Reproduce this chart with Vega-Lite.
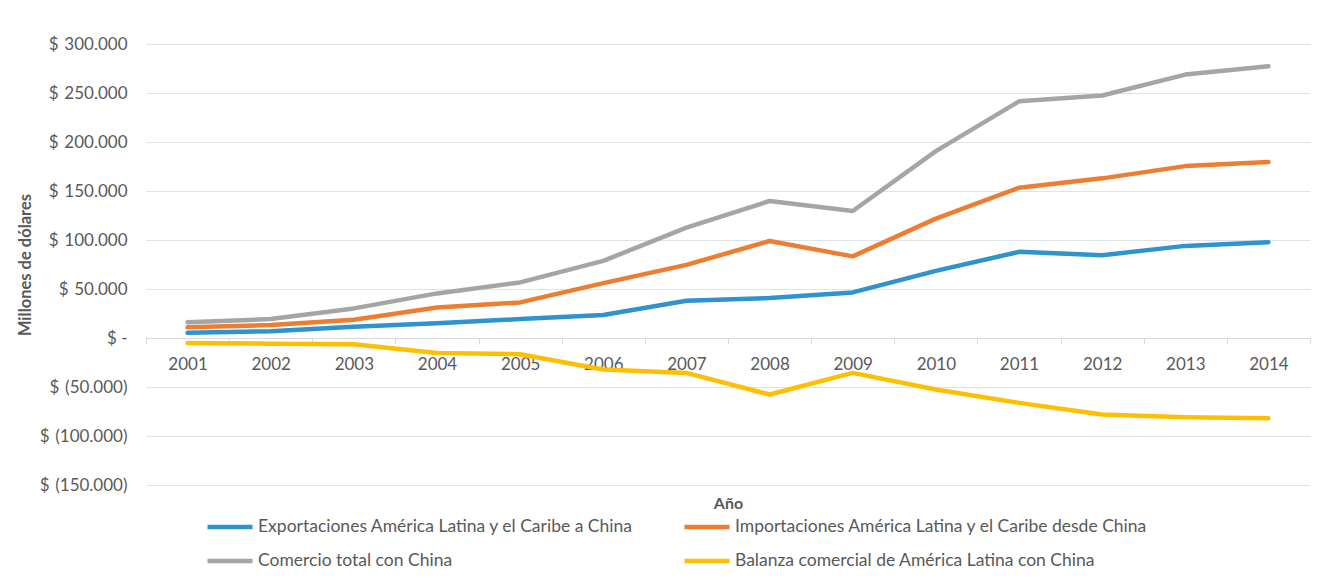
{
  "$schema": "https://vega.github.io/schema/vega-lite/v6.json",
  "width": 1164,
  "height": 441,
  "autosize": {"type": "none"},
  "padding": {"left": 146, "top": 44, "right": 15, "bottom": 100},
  "background": "white",
  "config": {
    "font": "Lato",
    "view": {"stroke": null},
    "axis": {"labelFont": "Lato", "titleFont": "Lato", "labelColor": "#595959", "titleColor": "#595959"}
  },
  "data": {
    "values": [
      {"year": "2001", "serie": "Exportaciones América Latina y el Caribe a China", "valor": 5400},
      {"year": "2002", "serie": "Exportaciones América Latina y el Caribe a China", "valor": 6800},
      {"year": "2003", "serie": "Exportaciones América Latina y el Caribe a China", "valor": 11500},
      {"year": "2004", "serie": "Exportaciones América Latina y el Caribe a China", "valor": 15000},
      {"year": "2005", "serie": "Exportaciones América Latina y el Caribe a China", "valor": 19300},
      {"year": "2006", "serie": "Exportaciones América Latina y el Caribe a China", "valor": 23400},
      {"year": "2007", "serie": "Exportaciones América Latina y el Caribe a China", "valor": 38000},
      {"year": "2008", "serie": "Exportaciones América Latina y el Caribe a China", "valor": 40700},
      {"year": "2009", "serie": "Exportaciones América Latina y el Caribe a China", "valor": 46500},
      {"year": "2010", "serie": "Exportaciones América Latina y el Caribe a China", "valor": 68500},
      {"year": "2011", "serie": "Exportaciones América Latina y el Caribe a China", "valor": 87900},
      {"year": "2012", "serie": "Exportaciones América Latina y el Caribe a China", "valor": 84500},
      {"year": "2013", "serie": "Exportaciones América Latina y el Caribe a China", "valor": 94000},
      {"year": "2014", "serie": "Exportaciones América Latina y el Caribe a China", "valor": 97700},
      {"year": "2001", "serie": "Importaciones América Latina y el Caribe desde China", "valor": 10900},
      {"year": "2002", "serie": "Importaciones América Latina y el Caribe desde China", "valor": 13200},
      {"year": "2003", "serie": "Importaciones América Latina y el Caribe desde China", "valor": 18600},
      {"year": "2004", "serie": "Importaciones América Latina y el Caribe desde China", "valor": 31200},
      {"year": "2005", "serie": "Importaciones América Latina y el Caribe desde China", "valor": 36300},
      {"year": "2006", "serie": "Importaciones América Latina y el Caribe desde China", "valor": 56000},
      {"year": "2007", "serie": "Importaciones América Latina y el Caribe desde China", "valor": 74600},
      {"year": "2008", "serie": "Importaciones América Latina y el Caribe desde China", "valor": 99000},
      {"year": "2009", "serie": "Importaciones América Latina y el Caribe desde China", "valor": 83300},
      {"year": "2010", "serie": "Importaciones América Latina y el Caribe desde China", "valor": 121800},
      {"year": "2011", "serie": "Importaciones América Latina y el Caribe desde China", "valor": 153400},
      {"year": "2012", "serie": "Importaciones América Latina y el Caribe desde China", "valor": 162900},
      {"year": "2013", "serie": "Importaciones América Latina y el Caribe desde China", "valor": 175400},
      {"year": "2014", "serie": "Importaciones América Latina y el Caribe desde China", "valor": 179500},
      {"year": "2001", "serie": "Comercio total con China", "valor": 16000},
      {"year": "2002", "serie": "Comercio total con China", "valor": 19300},
      {"year": "2003", "serie": "Comercio total con China", "valor": 30200},
      {"year": "2004", "serie": "Comercio total con China", "valor": 45500},
      {"year": "2005", "serie": "Comercio total con China", "valor": 56700},
      {"year": "2006", "serie": "Comercio total con China", "valor": 78700},
      {"year": "2007", "serie": "Comercio total con China", "valor": 112700},
      {"year": "2008", "serie": "Comercio total con China", "valor": 139800},
      {"year": "2009", "serie": "Comercio total con China", "valor": 129600},
      {"year": "2010", "serie": "Comercio total con China", "valor": 190700},
      {"year": "2011", "serie": "Comercio total con China", "valor": 241500},
      {"year": "2012", "serie": "Comercio total con China", "valor": 247400},
      {"year": "2013", "serie": "Comercio total con China", "valor": 268800},
      {"year": "2014", "serie": "Comercio total con China", "valor": 277200},
      {"year": "2001", "serie": "Balanza comercial de América Latina con China", "valor": -5100},
      {"year": "2002", "serie": "Balanza comercial de América Latina con China", "valor": -5800},
      {"year": "2003", "serie": "Balanza comercial de América Latina con China", "valor": -6400},
      {"year": "2004", "serie": "Balanza comercial de América Latina con China", "valor": -15300},
      {"year": "2005", "serie": "Balanza comercial de América Latina con China", "valor": -16600},
      {"year": "2006", "serie": "Balanza comercial de América Latina con China", "valor": -32200},
      {"year": "2007", "serie": "Balanza comercial de América Latina con China", "valor": -35600},
      {"year": "2008", "serie": "Balanza comercial de América Latina con China", "valor": -57700},
      {"year": "2009", "serie": "Balanza comercial de América Latina con China", "valor": -35600},
      {"year": "2010", "serie": "Balanza comercial de América Latina con China", "valor": -52600},
      {"year": "2011", "serie": "Balanza comercial de América Latina con China", "valor": -66200},
      {"year": "2012", "serie": "Balanza comercial de América Latina con China", "valor": -78000},
      {"year": "2013", "serie": "Balanza comercial de América Latina con China", "valor": -80800},
      {"year": "2014", "serie": "Balanza comercial de América Latina con China", "valor": -81800}
    ]
  },
  "mark": {"type": "line", "strokeWidth": 4.5, "strokeCap": "round", "strokeJoin": "round"},
  "encoding": {
    "x": {
      "field": "year",
      "type": "ordinal",
      "scale": {"type": "band", "paddingInner": 0, "paddingOuter": 0},
      "axis": {
        "title": "Año",
        "titleFontSize": 16,
        "titleFontWeight": "bold",
        "titleBaseline": "top",
        "titleY": 157,
        "labelAngle": 0,
        "labelFontSize": 17,
        "labelPadding": 12,
        "offset": -147,
        "domainColor": "#d9d9d9",
        "domainWidth": 1,
        "tickColor": "#d9d9d9",
        "tickSize": 6,
        "tickBand": "extent",
        "grid": false,
        "zindex": 0
      }
    },
    "y": {
      "field": "valor",
      "type": "quantitative",
      "scale": {"domain": [-150000, 300000], "nice": false, "zero": false},
      "axis": {
        "title": "Millones de dólares",
        "titleFontSize": 16.5,
        "titleFontWeight": "bold",
        "titlePadding": 6,
        "values": [-150000, -100000, -50000, 0, 50000, 100000, 150000, 200000, 250000, 300000],
        "labelExpr": "datum.value == 0 ? '$ -\u2002\u2004' : (datum.value < 0 ? '$\u2004(' + replace(format(-datum.value, ',.0f'), ',', '.') + ')' : '$\u2004' + replace(format(datum.value, ',.0f'), ',', '.') + '\u2004')",
        "labelFontSize": 17,
        "labelPadding": 19,
        "domain": false,
        "ticks": false,
        "gridColor": "#dde3ea",
        "gridWidth": 1
      }
    },
    "color": {
      "field": "serie",
      "type": "nominal",
      "scale": {
        "domain": [
          "Exportaciones América Latina y el Caribe a China",
          "Importaciones América Latina y el Caribe desde China",
          "Comercio total con China",
          "Balanza comercial de América Latina con China"
        ],
        "range": ["#2f93cd", "#ed7d31", "#a5a5a5", "#ffbf00"]
      },
      "legend": {
        "title": null,
        "orient": "none",
        "direction": "horizontal",
        "legendX": 59,
        "legendY": 458,
        "columns": 2,
        "columnPadding": 41,
        "rowPadding": -9,
        "padding": 0,
        "symbolType": "stroke",
        "symbolSize": 2025,
        "symbolStrokeWidth": 4.5,
        "labelFont": "Lato",
        "labelFontSize": 17.5,
        "labelColor": "#595959",
        "labelOffset": 3,
        "labelLimit": 600
      }
    }
  }
}
